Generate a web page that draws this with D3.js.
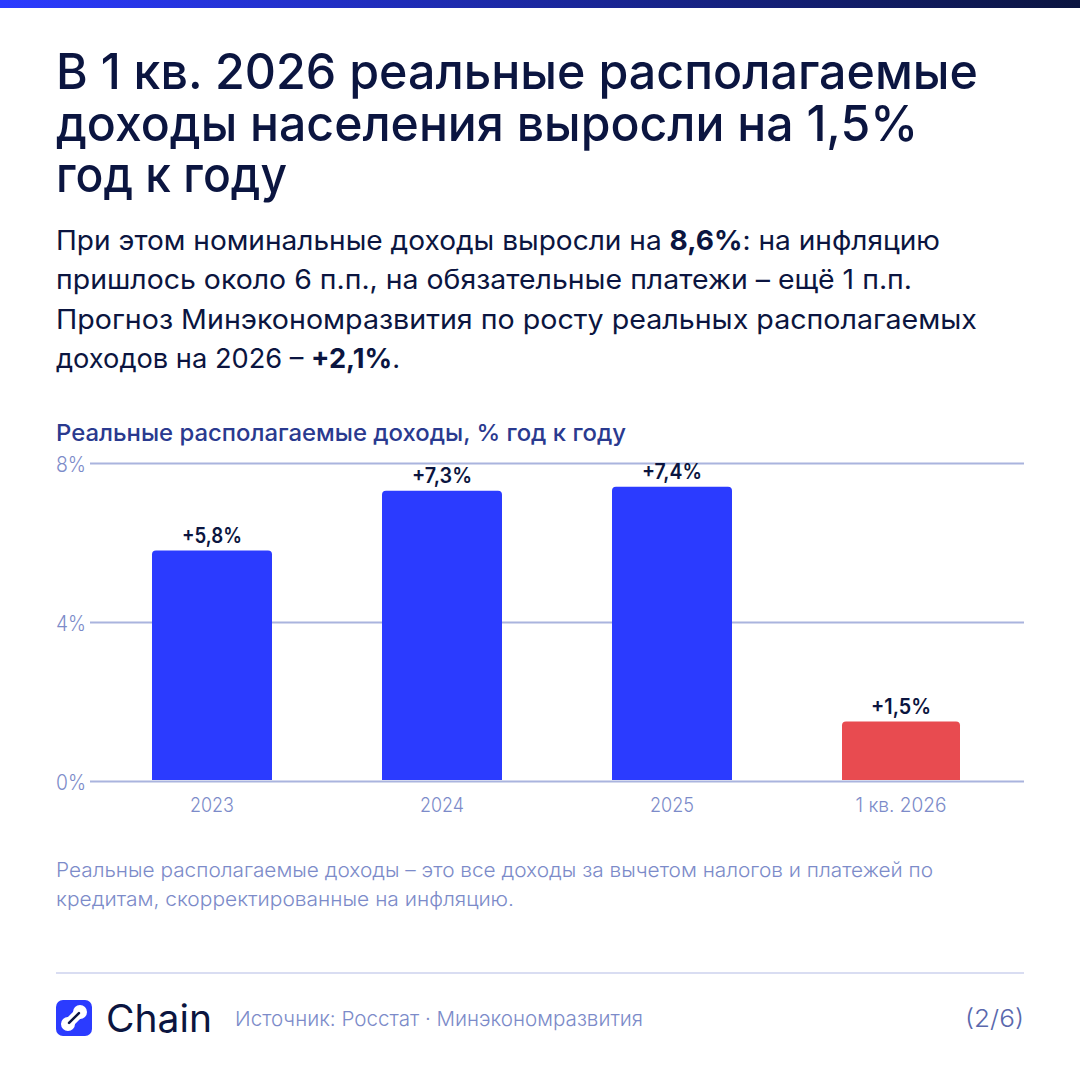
<!DOCTYPE html>
<html lang="ru">
<head>
<meta charset="utf-8">
<script src="https://cdn.jsdelivr.net/npm/d3@7/dist/d3.min.js"></script>
<style>
  html, body { margin: 0; padding: 0; background: #fff; }
  svg { display: block; }
  text { font-family: Inter, "Noto Sans", sans-serif; }
</style>
</head>
<body>
<svg id="card" width="1080" height="1080"></svg>
<script>
// Chart data
const categories = ["2023", "2024", "2025", "1 кв. 2026"];
const incomeGrowth = [5.8, 7.3, 7.4, 1.5];
const valueLabels = ["+5,8%", "+7,3%", "+7,4%", "+1,5%"];
const yTicks = [0, 4, 8];

// Copy
const titleLines = [
  "В 1 кв. 2026 реальные располагаемые",
  "доходы населения выросли на 1,5%",
  "год к году"
];
const bodyLines = [
  [["При этом номинальные доходы выросли на ", 400], ["8,6%", 700], [": на инфляцию", 400]],
  [["пришлось около 6 п.п., на обязательные платежи – ещё 1 п.п.", 400]],
  [["Прогноз Минэкономразвития по росту реальных располагаемых", 400]],
  [["доходов на 2026 – ", 400], ["+2,1%", 700], [".", 400]]
];
const chartTitle = "Реальные располагаемые доходы, % год к году";
const noteLines = [
  "Реальные располагаемые доходы – это все доходы за вычетом налогов и платежей по",
  "кредитам, скорректированные на инфляцию."
];
const sourceText = "Источник: Росстат · Минэкономразвития";

const INK = "#0b1540", BLUE = "#2b3bff", RED = "#e84b50",
      GRID = "#aab4de", MUTED = "#7c8bc9", HEADING = "#2a3a8f";

const svg = d3.select("#card");

// Places a line of text and stretches it to a set width
function line(parent, x, y, width, size, weight, fill, parts, anchor) {
  const t = parent.append("text")
    .attr("x", x).attr("y", y)
    .attr("font-size", size).attr("font-weight", weight).attr("fill", fill)
    .attr("text-anchor", anchor || "start");
  (typeof parts === "string" ? [[parts, weight]] : parts).forEach(([s, w]) =>
    t.append("tspan").attr("font-weight", w).text(s));
  if (width) t.attr("textLength", width).attr("lengthAdjust", "spacingAndGlyphs");
  return t;
}

// Top gradient band
const grad = svg.append("defs").append("linearGradient").attr("id", "band");
grad.append("stop").attr("offset", "0%").attr("stop-color", BLUE);
grad.append("stop").attr("offset", "100%").attr("stop-color", "#0b1540");
svg.append("rect").attr("width", 1080).attr("height", 8).attr("fill", "url(#band)");

// Heading
const titleWidths = [922, 862, 231];
titleLines.forEach((s, i) =>
  line(svg, 56, 89 + i * 51.5, titleWidths[i], 50, 500, INK, s));

// Lead paragraph
const bodyWidths = [884, 856, 921, 344];
bodyLines.forEach((p, i) =>
  line(svg, 56, 250 + i * 39.3, bodyWidths[i], 27, 400, INK, p));

// Chart
line(svg, 56, 440.5, 570, 23.5, 500, HEADING, chartTitle);

const x = d3.scaleBand().domain(categories).range([97, 1017])
  .paddingInner(110 / 230).paddingOuter(55 / 230);
const y = d3.scaleLinear().domain([0, 8]).range([781, 463]);

const yAxis = svg.append("g").attr("transform", "translate(90,0)")
  .call(d3.axisRight(y).tickValues(yTicks).tickSize(934).tickFormat(""));
yAxis.select(".domain").remove();
yAxis.selectAll("line").attr("stroke", GRID).attr("stroke-width", 2);

const yLabels = svg.append("g");
yTicks.forEach(d =>
  line(yLabels, 56, y(d) + 9, 30, 21.5, 300, MUTED, d + "%"));

// Bars with softly rounded top corners; the quarterly bar is a touch narrower
const r = 4;
svg.append("g").selectAll("path").data(incomeGrowth).join("path")
  .attr("fill", (d, i) => i === categories.length - 1 ? RED : BLUE)
  .attr("d", (d, i) => {
    const x0 = x(categories[i]), top = y(d), base = y(0) - 1;
    const w = x.bandwidth() - (i === categories.length - 1 ? 2 : 0);
    return `M${x0},${base}V${top + r}Q${x0},${top} ${x0 + r},${top}H${x0 + w - r}` +
           `Q${x0 + w},${top} ${x0 + w},${top + r}V${base}Z`;
  });

const valueGroup = svg.append("g");
incomeGrowth.forEach((d, i) =>
  line(valueGroup, x(categories[i]) + x.bandwidth() / 2 - (i === 3 ? 1 : 0), y(d) - 7.5,
       60, 21, 600, INK, valueLabels[i], "middle"));

const catWidths = [44, 44, 44, 91];
const catAxis = svg.append("g");
categories.forEach((c, i) => {
  line(catAxis, x(c) + x.bandwidth() / 2 - (i === 3 ? 1 : 0), 812, catWidths[i], 20, 300, MUTED, c, "middle");
});

// Footnote
const noteWidths = [877, 458];
noteLines.forEach((s, i) =>
  line(svg, 56, 877 + i * 28.5, noteWidths[i], 20, 300, MUTED, s));

// Footer
svg.append("line").attr("x1", 56).attr("x2", 1024).attr("y1", 973).attr("y2", 973)
  .attr("stroke", "#d9ddf2").attr("stroke-width", 2);

const logo = svg.append("g").attr("transform", "translate(74,1018)");
logo.append("rect").attr("x", -18).attr("y", -18).attr("width", 36).attr("height", 36)
  .attr("rx", 7).attr("fill", BLUE);
const link = logo.append("g").attr("transform", "rotate(-45)").attr("fill", "#fff");
link.append("circle").attr("cx", -8.5).attr("r", 7);
link.append("circle").attr("cx", 8.5).attr("r", 7);
link.append("rect").attr("x", -8.5).attr("y", -5).attr("width", 17).attr("height", 10);
link.append("line").attr("x1", -7).attr("x2", 7).attr("y1", 0).attr("y2", 0)
  .attr("stroke", INK).attr("stroke-width", 2.5).attr("stroke-linecap", "round");

line(svg, 106, 1032, 106, 38, 400, INK, "Chain");
line(svg, 235, 1026, 408, 20.5, 300, MUTED, sourceText);
line(svg, 1024, 1027, 59, 24, 300, "#5a68ad", "(2/6)", "end");
</script>
</body>
</html>
